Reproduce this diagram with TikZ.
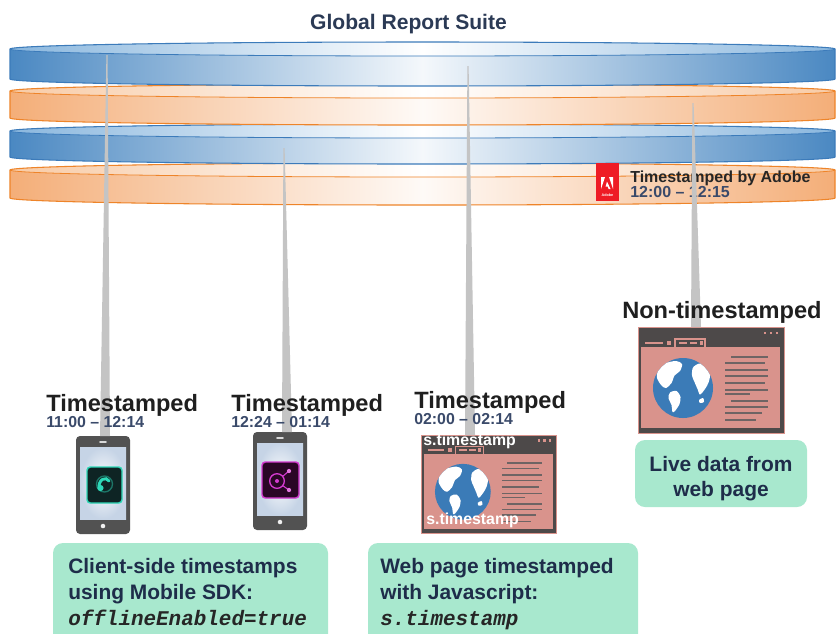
\documentclass[tikz,border=0pt]{standalone}
\usepackage{fontspec}
\setmainfont{Liberation Sans}
\setmonofont{Liberation Mono}
\usetikzlibrary{calc}

\definecolor{bandblue}{HTML}{4A88C2}
\definecolor{bandblueline}{HTML}{3C7BBA}
\definecolor{bandbluetop}{HTML}{8AB7DE}
\definecolor{bandorange}{HTML}{F4AE78}
\definecolor{bandorangeline}{HTML}{EE8429}
\definecolor{bandorangetop}{HTML}{F8CBA6}
\definecolor{wire}{HTML}{C4C4C4}
\definecolor{titleink}{HTML}{2B3A55}
\definecolor{timeink}{HTML}{3A4A6A}
\definecolor{noteink}{HTML}{1E2D4A}
\definecolor{notefill}{HTML}{A8E8CE}
\definecolor{devgray}{HTML}{525252}
\definecolor{screenedge}{HTML}{C6D4E6}
\definecolor{pagepink}{HTML}{D9938C}
\definecolor{pagedark}{HTML}{4D4949}
\definecolor{pageline}{HTML}{6E6464}
\definecolor{globeblue}{HTML}{3B7BB7}
\definecolor{adobered}{HTML}{EE1C25}
\definecolor{icteal}{HTML}{2ED8B8}
\definecolor{icdark}{HTML}{0E2424}
\definecolor{icmagenta}{HTML}{D43AD0}
\definecolor{icplum}{HTML}{2A0626}

% flat elliptical rims of the stacked discs (centre x 422.5, radii 412.5 x 7)
\newcommand\rimtop[1]{(10,#1) .. controls (10,#1-3.866) and (194.7,#1-7) .. (422.5,#1-7) .. controls (650.3,#1-7) and (835,#1-3.866) .. (835,#1)}
\newcommand\rimbottom[1]{.. controls (835,#1+3.866) and (650.3,#1+7) .. (422.5,#1+7) .. controls (194.7,#1+7) and (10,#1+3.866) .. (10,#1)}

% one disc: #1 top-face y, #2 bottom y, #3 side colour, #4 top-face colour, #5 outline
\newcommand\disc[5]{%
  \path[left color=#3, right color=#3, middle color=white!94!#3] \rimtop{#1} -- (835,#2) \rimbottom{#2} -- cycle;
  \path[left color=#4, right color=#4, middle color=white] \rimtop{#1} \rimbottom{#1} -- cycle;
  \draw[#5, line width=0.8pt] \rimtop{#1} -- (835,#2) \rimbottom{#2} -- cycle;
  \draw[#5, line width=0.6pt] (835,#1) \rimbottom{#1};
}

% tapered feed from a disc down to a source
\newcommand\feed[2]{%
  \fill[wire] ($(#1)+(-0.6,0)$) -- ($(#1)+(0.6,0)$) -- ($(#2)+(5,0)$) -- ($(#2)+(-5,0)$) -- cycle;
}

\tikzset{
  heading/.style={font=\fontsize{15.8}{19}\selectfont\bfseries, text=titleink, inner sep=0pt},
  bigtag/.style={font=\fontsize{17.7}{21}\selectfont\bfseries, text=black!88, inner sep=0pt},
  timetag/.style={font=\fontsize{11.9}{14}\selectfont\bfseries, text=timeink, inner sep=0pt},
  adobetag/.style={font=\fontsize{12}{14}\selectfont\bfseries, inner sep=0pt},
  notetext/.style={font=\fontsize{15.7}{19}\selectfont\bfseries, text=noteink, inner sep=0pt},
  notecode/.style={font=\fontsize{15.7}{19}\selectfont\ttfamily\bfseries\itshape, text=black!85, inner sep=0pt},
  stamptag/.style={font=\fontsize{11.9}{14}\selectfont\bfseries, text=white, inner sep=0pt},
  notebox/.style={fill=notefill, rounded corners=7.5pt},
  pics/handset/.style={code={
    \path[fill=devgray, rounded corners=3pt] (0,0) rectangle (54,98);
    \path[inner color=white, outer color=screenedge] (4,11) rectangle (50,83);
    \draw[white!70!gray, line width=1.2pt, line cap=round] (24,6) -- (30,6);
    \fill[white!88!gray] (27,90) circle (1.7pt);
  }},
  pics/browser/.style={code={
    \path[fill=pagedark, draw=pagepink, line width=0.6pt] (0,0) rectangle (146,106);
    \fill[pagepink] (3,20) rectangle (142,101);
    \foreach \d in {127,133,139} \fill[pagepink] (\d-1.3,4.7) rectangle (\d+1.3,7.3);
    \draw[pagepink, line width=1.5pt] (7,16) -- (25,16);
    \fill[pagepink] (29,14.3) rectangle (33,17.8);
    \draw[pagepink, line width=0.8pt] (37,20) -- (37,12) -- (67,12) -- (67,20);
    \draw[pagepink, line width=1.5pt] (41,16) -- (49,16) (52,16) -- (59,16);
    \fill[pagepink] (61.5,14.3) rectangle (65,17.8);
    \begin{scope}[shift={(45,61)}]
      \fill[globeblue] (0,0) circle (22.5pt);
      \begin{scope}
        \clip (0,0) circle (22.5pt);
        \fill[white] plot[smooth cycle] coordinates {(-25,-17) (-18,-24.5) (-7,-27) (-1,-24) (-3,-17) (-8.5,-12.5) (-11.5,-5) (-17,0) (-21.5,-2.5) (-26,-10)};
        \fill[white] plot[smooth cycle] coordinates {(-13,4.5) (-6.5,3) (-2.5,9) (-3.5,16) (-8,23) (-10.5,24) (-11.5,17) (-14.5,10)};
        \fill[white] plot[smooth cycle] coordinates {(10,-20.5) (16.5,-24.5) (22.5,-21.5) (27,-14) (25.5,-5.5) (22,1) (17,6.5) (14.5,1) (11.5,-6) (9,-12.5)};
        \fill[white] plot[smooth cycle] coordinates {(16,12) (20,10) (21,14) (17,15)};
      \end{scope}
    \end{scope}
    \foreach \yy/\xa/\xb in {30/93/130, 36/87/127, 43/87/130, 49/87/130, 56/87/127, 63/87/130, 67/87/112, 74/93/130, 80/87/130, 86/87/124, 93/87/118}
      \draw[pageline, line width=1.1pt] (\xa,\yy) -- (\xb,\yy);
  }},
}

\begin{document}
\begin{tikzpicture}[x=0.75pt, y=-0.75pt]
\path[use as bounding box, clip] (0,0) rectangle (837,633);
\fill[white] (0,0) rectangle (837,633);

% report suite: stacked discs, lowest first
\disc{170}{198}{bandorange}{bandorangetop}{bandorangeline}
\disc{131}{157}{bandblue}{bandbluetop}{bandblueline}
\disc{91}{118}{bandorange}{bandorangetop}{bandorangeline}
\disc{49}{79}{bandblue}{bandbluetop}{bandblueline}

\node[heading, anchor=base] (suite) at (408.5,29) {Global Report Suite};

% Adobe server-side stamp
\fill[adobered] (596,163) rectangle (619,201);
\fill[white] (601,177) -- (605,177) -- (601,189) -- cycle;
\fill[white] (609,177) -- (613,177) -- (613,189) -- cycle;
\fill[white] (607,181.5) -- (610.5,189) -- (608.6,189) -- (607.7,186.6) -- (605.6,186.6) -- cycle;
\node[font=\fontsize{2.8}{3}\selectfont\bfseries, text=white, inner sep=0pt] (adobemark) at (607.5,195.5) {Adobe};
\node[adobetag, text=black!85, anchor=base west] (adobe1) at (630,182) {Timestamped by Adobe};
\node[adobetag, text=timeink, anchor=base west] (adobe2) at (630,197) {12:00 – 12:15};

% sources
\pic (ph1) at (76,436) {handset};
\pic (ph2) at (253,432) {handset};
\pic[scale=0.93] (pg1) at (421,435) {browser};
\pic (pg2) at (638,327) {browser};

% app icons on the handsets
\path[fill=icdark, draw=icteal, line width=1.1pt, rounded corners=2.5pt] (87,467) rectangle (122,503);
\draw[icteal!45!icdark, line width=1pt] (104.5,484) circle (6pt);
\draw[icteal, line width=2.2pt, line cap=round] (99,489) .. controls (98,479) and (106,476) .. (109,481);
\fill[icteal] (100.5,488) circle (2.3pt);

\path[fill=icplum, draw=icmagenta, line width=1.1pt, rounded corners=2.5pt] (262,462) rectangle (299,498);
\draw[icmagenta, line width=1pt] (277,481) circle (5.5pt);
\fill[icmagenta] (277,481) circle (1.5pt);
\draw[icmagenta, line width=0.8pt] (282.5,476.5) -- (289,471) (282.5,485.5) -- (289,490);
\fill[icmagenta!70!white] (289,471) circle (1.6pt) (289,490) circle (1.6pt);

% feeds from the discs to the sources
\coordinate (t1) at (107,55);   \coordinate (b1) at (105,436);
\coordinate (t2) at (284,148);  \coordinate (b2) at (287,432);
\coordinate (t3) at (468,66);   \coordinate (b3) at (470,435);
\coordinate (t4) at (693,103);  \coordinate (b4) at (696,327);
\feed{t1}{b1}
\feed{t2}{b2}
\feed{t3}{b3}
\feed{t4}{b4}

% source labels
\node[bigtag, anchor=base west] (lab1) at (46,411) {Timestamped};
\node[timetag, anchor=base west] (tim1) at (46,427) {11:00 – 12:14};
\node[bigtag, anchor=base west] (lab2) at (231,411) {Timestamped};
\node[timetag, anchor=base west] (tim2) at (231,427) {12:24 – 01:14};
\node[bigtag, anchor=base west] (lab3) at (414,408) {Timestamped};
\node[timetag, anchor=base west] (tim3) at (414,424) {02:00 – 02:14};
\node[bigtag, anchor=base west] (lab4) at (622,318) {Non-timestamped};

\node[stamptag, anchor=base west] (st1) at (423,445) {s.timestamp};
\node[stamptag, anchor=base west] (st2) at (426,524) {s.timestamp};

% notes
\path[notebox] (53,543) rectangle (328,650);
\node[notetext, anchor=base west] (n1a) at (68,573) {Client-side timestamps};
\node[notetext, anchor=base west] (n1b) at (68,599) {using Mobile SDK:};
\node[notecode, anchor=base west] (n1c) at (68,625) {offlineEnabled=true};

\path[notebox] (368,543) rectangle (638,650);
\node[notetext, anchor=base west] (n2a) at (380,573) {Web page timestamped};
\node[notetext, anchor=base west] (n2b) at (380,599) {with Javascript:};
\node[notecode, anchor=base west] (n2c) at (380,625) {s.timestamp};

\path[notebox] (635,440) rectangle (807,507);
\node[notetext, anchor=base] (n3a) at (721,471) {Live data from};
\node[notetext, anchor=base] (n3b) at (721,496) {web page};
\end{tikzpicture}
\end{document}
